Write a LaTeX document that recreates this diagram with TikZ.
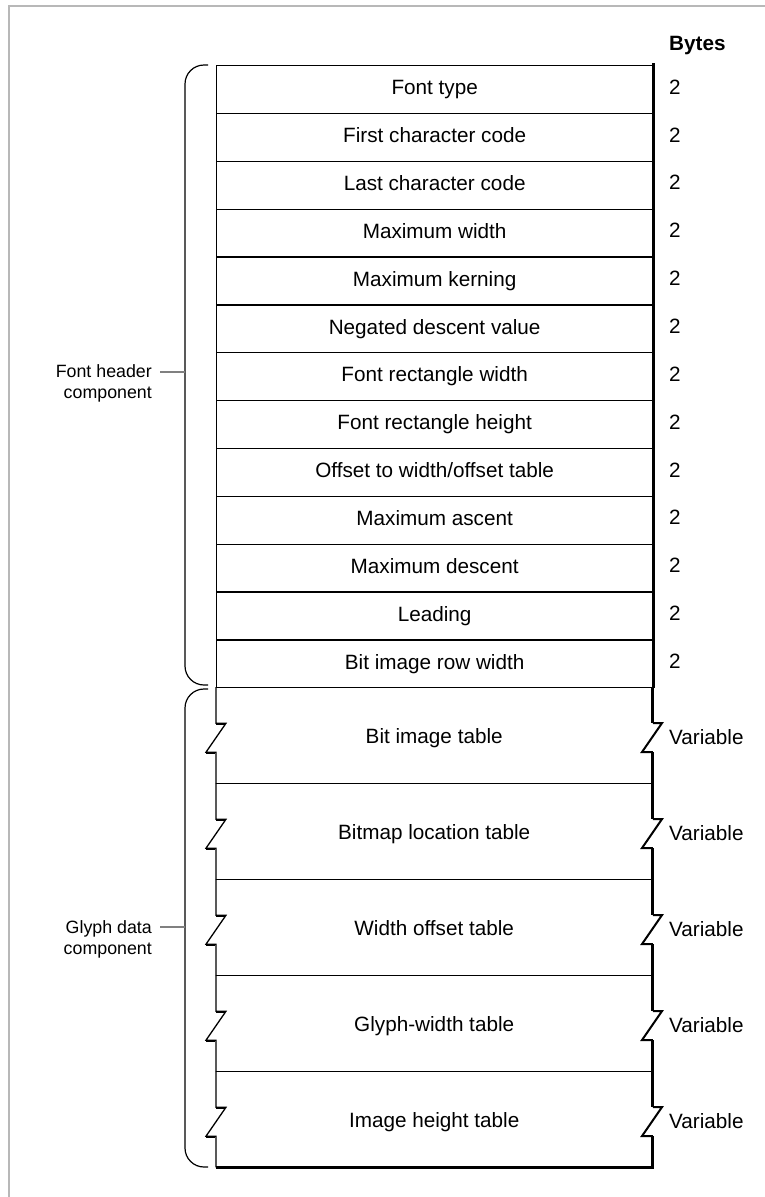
\documentclass[tikz,border=0pt]{standalone}
\usepackage{fontspec}
\setmainfont{Liberation Sans}
\usetikzlibrary{calc}
\begin{document}
\begin{tikzpicture}[x=1pt,y=-1pt,
  txt/.style={font=\fontsize{20.7}{25}\selectfont, text height=15pt, text depth=4.4pt},
  hcell/.style={txt, draw=black, line width=1.3pt, minimum width=436pt, minimum height=47.85pt, inner sep=0pt, anchor=north west},
  gcell/.style={txt, text height=18pt, text depth=1.4pt, minimum width=436pt, minimum height=96pt, inner sep=0pt, anchor=north west},
  bytelbl/.style={txt, anchor=west, inner sep=0pt},
  sidelbl/.style={font=\fontsize{17.8}{21.8}\selectfont, align=right, anchor=north east, inner sep=0pt},
  edge/.style={line width=1.3pt, line join=miter},
  thickedge/.style={line width=3pt},
  brace/.style={line width=1.2pt, rounded corners=19pt},
  leader/.style={line width=1.3pt, black!50},
  frameline/.style={line width=2pt, black!28}
]
\useasboundingbox (0,0) rectangle (765,1197);
\draw[frameline] (9,1197) -- (9,6) -- (765,6);

\node[bytelbl, font=\fontsize{20.7}{25}\selectfont\bfseries] (bytes) at (669,45) {Bytes};

% header rows
\foreach \t [count=\i] in {Font type, First character code, Last character code, Maximum width, Maximum kerning, Negated descent value, Font rectangle width, Font rectangle height, Offset to width/offset table, Maximum ascent, Maximum descent, Leading, Bit image row width}{
  \node[hcell] (h\i) at (216,{65+(\i-1)*47.85}) {\t};
  \node[bytelbl] (hb\i) at (669,{65+(\i-0.5)*47.85}) {2};
}
\draw[thickedge] ($(h1.north east)+(0.5,-2)$) -- ($(h13.south east)+(0.5,0)$);

% glyph rows
\foreach \t [count=\i] in {Bit image table, Bitmap location table, Width offset table, Glyph-width table, Image height table}{
  \node[gcell] (g\i) at (216,{687+(\i-1)*96}) {\t};
  \node[bytelbl] (gb\i) at (669,{687+(\i-0.5)*96+4}) {Variable};
  \draw[edge] (g\i.north west) -- ($(g\i.west)+(0,-12)$) coordinate (lz1\i) -- ++(10,0) -- ++(-20,29) coordinate (lz2\i) -- ++(10,0) -- (g\i.south west);
  \draw[line width=2.2pt] ($(lz1\i)+(0,1)$) -- ++(9,0);
  \draw[line width=2.2pt] ($(lz2\i)+(0,1)$) -- ++(9,0);
  \draw[thickedge] ($(g\i.north east)+(0.5,0)$) -- ($(g\i.east)+(0.5,-12)$) coordinate (rz1\i);
  \draw[line width=2pt, line join=miter] (rz1\i) -- ++(9,0) -- ++(-20,29) -- ++(11,0) coordinate (rz2\i);
  \draw[thickedge] (rz2\i) -- ($(g\i.south east)+(0.5,0)$);
}
\foreach \i in {1,2,3,4}{
  \draw[edge] (g\i.south west) -- (g\i.south east);
}
\draw[thickedge] ($(g5.south west)+(0,0.5)$) -- ($(g5.south east)+(2,0.5)$);

% braces
\draw[brace] (208,65) -- (185,65) -- (185,685) -- (208,685);
\draw[brace] (208,689) -- (185,689) -- (185,1167) -- (208,1167);

% component labels
\node[sidelbl] (hdr) at (152,364) {Font header\\component};
\node[sidelbl] (gly) at (152,920) {Glyph data\\component};
\coordinate (hbr) at (185,372);
\coordinate (gbr) at (185,927);
\draw[leader] (hbr) -- ++(-25,0);
\draw[leader] (gbr) -- ++(-25,0);
\end{tikzpicture}
\end{document}
